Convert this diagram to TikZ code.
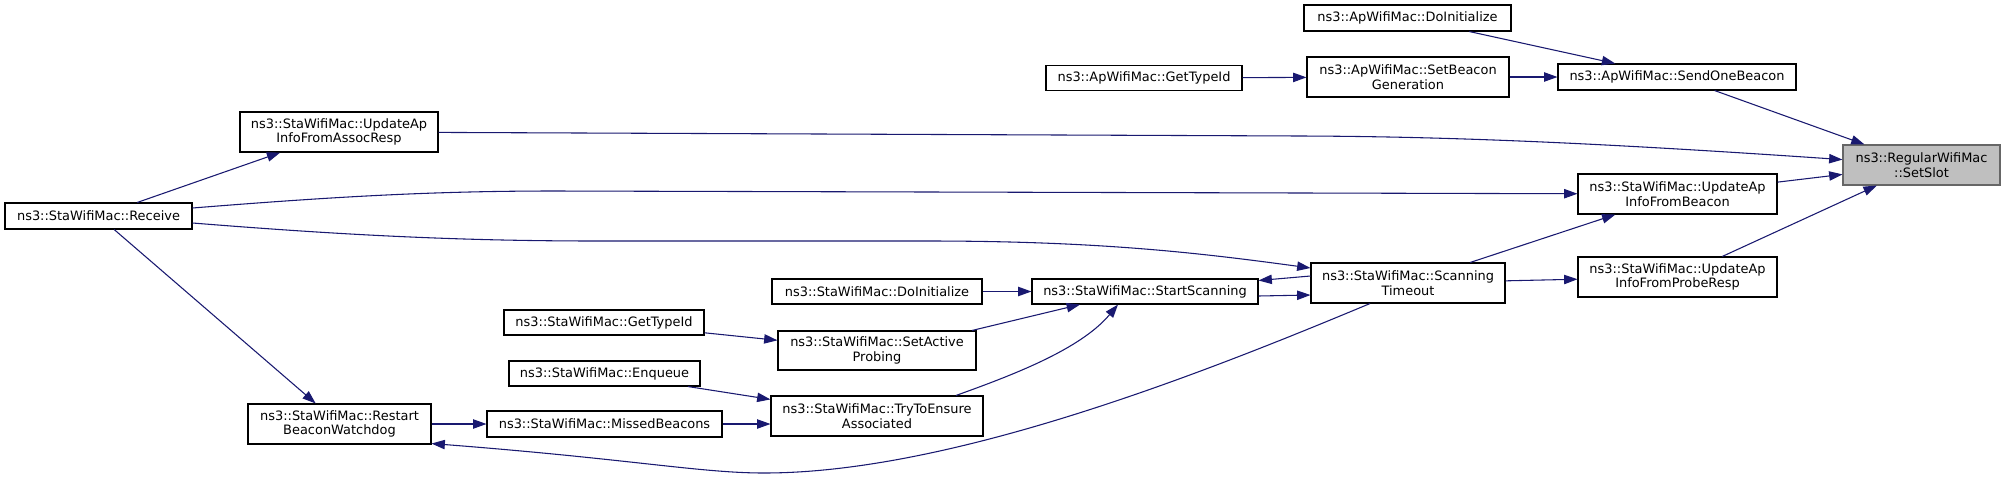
\documentclass[tikz,border=0pt]{standalone}
\usepackage{fontspec}
\setmainfont{DejaVu Sans}
\usetikzlibrary{arrows.meta,calc}
\definecolor{edgecol}{HTML}{191970}
\definecolor{rootfill}{HTML}{BFBFBF}
\definecolor{rootdraw}{HTML}{666666}
\begin{document}
\begin{tikzpicture}[x=0.75pt,y=-0.75pt,
  box/.style={draw=black, fill=white, line width=0.8pt, inner sep=0pt, align=center,
    font=\fontsize{9.7}{10.8}\selectfont, text=black},
  wh/.style 2 args={minimum width=#1*0.75pt, minimum height=#2*0.75pt},
  root/.style={box, fill=rootfill, draw=rootdraw},
  edge/.style={draw=edgecol, line width=0.8pt, -{Triangle[length=10pt,width=7pt]}}]
\useasboundingbox[fill=white] (0,0) rectangle (2005,479);

% nodes
\node[root, wh={157}{40}] (setslot) at (1921.5,165) {ns3::RegularWifiMac\\::SetSlot};
\node[box, wh={238}{26}] (sendone) at (1677,77) {ns3::ApWifiMac::SendOneBeacon};
\node[box, wh={207}{26}] (apinit) at (1407.5,18) {ns3::ApWifiMac::DoInitialize};
\node[box, wh={202}{40}] (setbeacon) at (1408,77) {ns3::ApWifiMac::SetBeacon\\Generation};
\node[box, wh={196}{25}] (aptypeid) at (1144,78) {ns3::ApWifiMac::GetTypeId};
\node[box, wh={198}{40}] (assoc) at (339,132) {ns3::StaWifiMac::UpdateAp\\InfoFromAssocResp};
\node[box, wh={187}{26}] (receive) at (98.5,216) {ns3::StaWifiMac::Receive};
\node[box, wh={199}{40}] (beacon) at (1677.5,194) {ns3::StaWifiMac::UpdateAp\\InfoFromBeacon};
\node[box, wh={199}{40}] (probe) at (1677.5,277) {ns3::StaWifiMac::UpdateAp\\InfoFromProbeResp};
\node[box, wh={194}{40}] (timeout) at (1408,283) {ns3::StaWifiMac::Scanning\\Timeout};
\node[box, wh={226}{25}] (startscan) at (1145,291.5) {ns3::StaWifiMac::StartScanning};
\node[box, wh={210}{25}] (stainit) at (877,291.5) {ns3::StaWifiMac::DoInitialize};
\node[box, wh={198}{39}] (activeprobe) at (877,350.5) {ns3::StaWifiMac::SetActive\\Probing};
\node[box, wh={200}{25}] (statypeid) at (604,322.5) {ns3::StaWifiMac::GetTypeId};
\node[box, wh={191}{25}] (enqueue) at (604.5,373.5) {ns3::StaWifiMac::Enqueue};
\node[box, wh={212}{40}] (tryensure) at (877,416) {ns3::StaWifiMac::TryToEnsure\\Associated};
\node[box, wh={235}{26}] (missed) at (604.5,424) {ns3::StaWifiMac::MissedBeacons};
\node[box, wh={183}{40}] (restart) at (339.5,424) {ns3::StaWifiMac::Restart\\BeaconWatchdog};

% edges
\draw[edge] (sendone) -- (setslot);
\draw[edge] (assoc) -- (1300,136) .. controls (1450,136.5) and (1600,143) .. (setslot);
\draw[edge] (beacon) -- (setslot);
\draw[edge] (probe) -- (setslot);
\draw[edge] (apinit) -- (sendone);
\draw[edge] (setbeacon) -- (sendone);
\draw[edge] (aptypeid) -- (setbeacon);
\draw[edge] (receive) -- (assoc);
\draw[edge] ($(receive.east)+(0,-8)$) .. controls (330,197) and (430,191) .. (555,191) -- (beacon);
\draw[edge] ($(receive.east)+(0,7)$) .. controls (330,234) and (450,241) .. (597,241) -- (927,241)
  .. controls (1100,241) and (1200,253) .. ($(timeout.west)+(0,-15)$);
\draw[edge] (receive) -- (restart);
\draw[edge] (timeout) -- (beacon);
\draw[edge] (timeout) -- (probe);
\draw[edge] ($(timeout.west)+(0,-7)$) -- ($(startscan.east)+(0,-11)$);
\draw[edge] ($(startscan.east)+(0,4.5)$) -- ($(timeout.west)+(0,12)$);
\draw[edge] (stainit) -- (startscan);
\draw[edge] ($(activeprobe.north)+(95,0)$) -- ($(startscan.south)+(-65,0)$);
\draw[edge] ($(tryensure.north)+(79,0)$) .. controls (1010,376) and (1080,350) .. ($(startscan.south)+(-27,0)$);
\draw[edge] (statypeid) -- (activeprobe);
\draw[edge] (enqueue) -- (tryensure);
\draw[edge] (missed.east) -- (missed.east -| tryensure.west);
\draw[edge] (restart) -- (missed);
\draw[edge] ($(timeout.south)+(-38,0)$) .. controls (1199,375) and (950,473) .. (764,473)
  .. controls (700,473) and (631,459) .. ($(restart.south east)+(0,-1)$);
\end{tikzpicture}
\end{document}
